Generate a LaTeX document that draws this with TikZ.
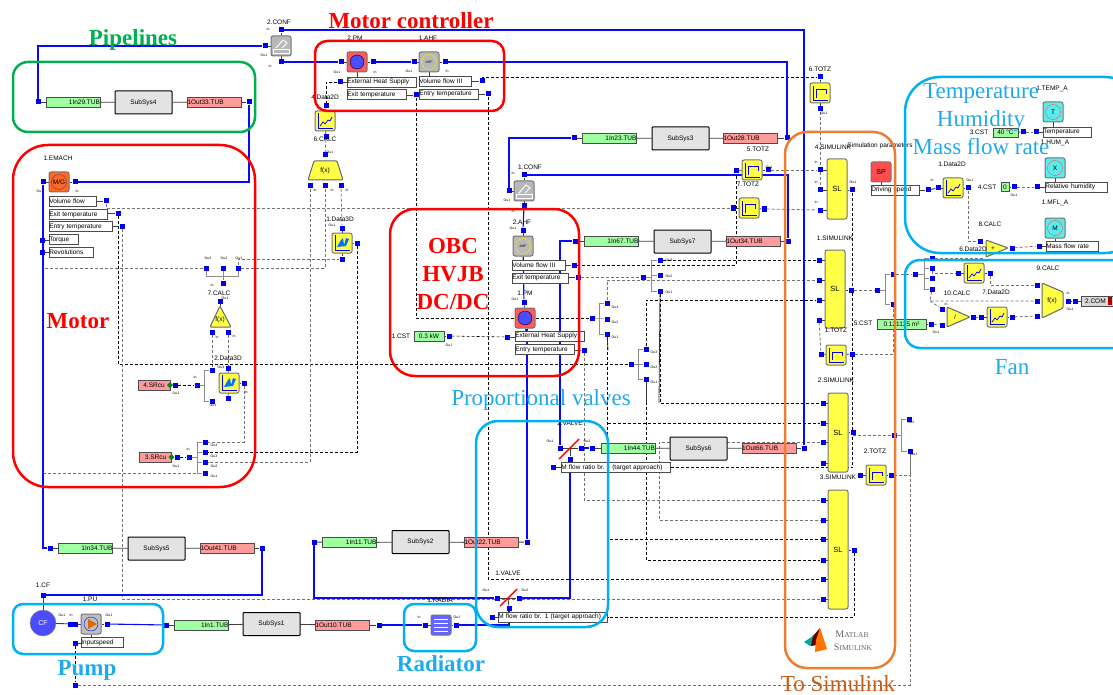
\documentclass[tikz,border=0pt]{standalone}
\usepackage{fontspec}
\setmainfont{Liberation Serif}
\newfontfamily\labelfont{Liberation Sans}
\usetikzlibrary{backgrounds}

\definecolor{portblue}{RGB}{0,0,240}
\definecolor{pipeblue}{RGB}{10,10,250}
\definecolor{tubegreen}{RGB}{160,255,160}
\definecolor{tubered}{RGB}{255,155,155}
\definecolor{blockyellow}{RGB}{255,255,70}
\definecolor{blockcyan}{RGB}{90,235,235}
\definecolor{zonecyan}{RGB}{0,176,240}
\definecolor{textcyan}{RGB}{30,170,235}
\definecolor{zoneorange}{RGB}{237,125,49}
\definecolor{textorange}{RGB}{197,90,17}
\definecolor{zonegreen}{RGB}{0,176,80}

\tikzset{
  tiny/.style={font=\labelfont\fontsize{6.5}{7}\selectfont, inner sep=0pt},
  tag/.style={font=\labelfont\fontsize{3.5}{4}\selectfont, inner sep=0pt},
  port/.style={fill=portblue, minimum size=5pt, inner sep=0pt},
  intube/.style={draw=black!70, fill=tubegreen, line width=.6pt, minimum height=10pt, inner sep=1.5pt, text width=54pt, align=right, tiny},
  outtube/.style={draw=black!70, fill=tubered, line width=.6pt, minimum height=10pt, inner sep=1.5pt, text width=54pt, align=left, tiny},
  subsys/.style={draw=black, fill=black!11, line width=1pt, rounded corners=.8pt, minimum width=57pt, minimum height=23pt, tiny},
  rowbox/.style={draw=black!70, fill=white, line width=.7pt, anchor=west, minimum height=10pt, inner sep=1.5pt, text width=#1, tiny},
  cstbox/.style={draw=black!70, fill=tubegreen, line width=.6pt, minimum height=9pt, inner sep=1.5pt, tiny},
  yblock/.style={draw=black!55, fill=blockyellow, line width=1pt, rounded corners=2pt, minimum size=20pt, inner sep=0pt, tiny},
  sgblock/.style={draw=black!55, fill=black!28, line width=1pt, rounded corners=2pt, minimum size=20pt, inner sep=0pt},
  slblock/.style={draw=black!55, fill=blockyellow, line width=1pt, rounded corners=2pt, minimum width=20pt, tiny, font=\labelfont\fontsize{7.5}{8}\selectfont},
  cyblock/.style={draw=black!55, fill=blockcyan, line width=1pt, rounded corners=2pt, minimum size=20pt, inner sep=0pt},
  pipe/.style={draw=pipeblue, line width=1.1pt},
  sig/.style={draw=black, line width=.55pt, dash pattern=on 3pt off 2pt},
  siggray/.style={draw=black!55, line width=.8pt, dash pattern=on 3pt off 2pt},
  brk/.style={draw=black!45, line width=.55pt},
  stub/.style={draw=black!75, line width=.9pt},
  zone/.style={line width=2.5pt, rounded corners=#1},
  bigbold/.style={font=\fontsize{23}{28}\selectfont\bfseries, inner sep=0pt, align=center},
  bigplain/.style={font=\fontsize{23}{28}\selectfont, inner sep=0pt, align=center},
  totzicon/.pic={
    \draw[blue, line width=.7pt] (-7,-7) -- (-7,7) -- (8,7);
    \draw[blue, line width=1pt] (-4,5) -- (-4,-3) -- (6,-3) -- (6,1);
  },
  curveicon/.pic={
    \draw[blue, line width=.7pt] (-7,-8) -- (-7,7) -- (8,7);
    \draw[blue, line width=.7pt] (-5,5) -- (-2,1) -- (0,3) -- (3,-1) -- (5,0) -- (7,-4);
  },
  surficon/.pic={
    \draw[blue, line width=.7pt] (-7,-8) -- (-7,7) -- (8,7);
    \fill[blue!55!cyan] (-5,4) -- (-1,-3) -- (1,-5) -- (2,2) -- (4,-5) -- (7,-4) -- (4,3) -- cycle;
  },
  confswitch/.pic={
    \draw[white, line width=.9pt] (-8,3) -- (8,3) -- (8,7) -- (-8,7) -- cycle;
    \draw[white, line width=.9pt] (-5,2) -- (2,-6) -- (6,-3) -- (1,2);
  },
}

\begin{document}
\begin{tikzpicture}[x=1pt, y=-1pt]
  \useasboundingbox (0,0) rectangle (1113,695);
  \clip (0,0) rectangle (1113,695);

  % Ports
  \foreach \n/\x/\y in {in29p/38/102, out33p/249/102, cf2t/281/30, cf2l/265/46, cf2b/281/62,
      pm2l/341/62, pm2r/373/62, heat2p/340/82, exit2p/416/95, ahf1l/414/62, ahf1r/445/62,
      vol1p/482/81, ent1p/488/94, d4t/326/106, d4b/326/137, calc6t/325/155, calc6a/310/186,
      calc6b/325/186, calc6c/341/186, d1t/342/228, d1r/357/243, d1b/342/259,
      emL/43/182, emR/75/182, volP/106/201, exitP/118/213, entP/122/226, torP/42/240, revP/42/252,
      s7a/206/268, s7b/223/268, s7c/238/268, s7in/223/283, calc7t/220/301, calc7a/212/332, calc7b/228/332,
      d2t/228/368, d2r/244/383, d2b/228/398, s4a/212/370, s4b/212/401, s4in/197/385, sr4p/175/385,
      sr3p/177/457, s3in/189/457, s3a/205/442, s3b/205/452, s3c/205/462, s3d/205/473,
      in34p/50/548, out41p/262/548, cfT/43/595, puR/107/624, inputP/75/643, linkP/75/685,
      in1p/166/625, out10p/379/625, radL/425/625, radR/456/625, in11p/314/542, out22p/527/542,
      v1l/497/598, v1r/519/598, v1b/509/608, v1row/492/617, v2l/560/448, v2r/581/448, v2b/570/459,
      v2row/553/467, in44p/592/448, out66p/804/448, cf1l/509/191, cf1t/524/175, cf1b/524/206,
      ahf2t/523/230, vol2p/574/265, exit3p/578/277, pm1t/524/302, heat1p/507/337, ent2p/584/350,
      cst1p/449/336, in67p/575/241, out34p/788/241, in23p/574/138, out28p/787/138,
      s5in/643/277, s5a/660/260, s5b/660/275, s5c/660/291, s6in/592/318, s6a/607/303, s6b/607/319, s6c/607/334,
      s8in/631/364, s8a/646/349, s8b/646/364, s8c/646/379, tz5l/736/171, tz5r/768/170, tz7l/733/208, tz7r/764/209,
      tz6t/820/77, tz6b/820/109, sl4a/820/170, sl4b/820/190, sl4c/820/210, sl4r/852/190,
      sl1a/819/260, sl1b/819/280, sl1c/819/300, sl1d/819/320, sl1r/851/290, tz1l/821/354, tz1r/852/354,
      sl2a/823/403, sl2b/823/423, sl2c/823/442, sl2d/823/463, sl2r/853/432, tz2l/860/475, tz2r/891/475,
      s9in/894/435, s9a/909/419, s9b/910/451, sl3a/823/500, sl3b/823/520, sl3c/823/539, sl3d/823/560,
      sl3e/823/579, sl3f/823/599, sl3r/854/550, s2in/877/290, s2a/893/274, s2b/893/304,
      cst3p/1023/132, tempP/1036/132, cst4p/1014/187, humP/1037/187, massP/1039/246, drvP/928/190,
      d6l/938/188, d6r/968/188, calc8l/980/241, calc8r/1012/248, fanin/915/274, f1/932/258, f2/932/268,
      f3/932/278, f4/932/289, d7l/958/273, d7r/990/273, calc10a/942/309, calc10b/942/325, calc10r/973/317,
      d8l/981/317, d8r/1012/317, cst5p/931/324, calc9a/1037/285, calc9b/1037/301, calc9c/1037/316,
      calc9r/1068/301, comL/1075/301}
    \node[port] (\n) at (\x,\y) {};
  \node[port, minimum width=10pt] (cfR) at (73,624) {};

  % Subsystem chains
  \node[intube] (in29) at (73,102) {1In29.TUB};
  \node[subsys] (sub4) at (143.5,102.5) {SubSys4};
  \node[outtube] (out33) at (214.5,102) {1Out33.TUB};
  \node[intube] (in34) at (85.5,548) {1In34.TUB};
  \node[subsys] (sub5) at (156.5,548.5) {SubSys5};
  \node[outtube] (out41) at (227.5,548) {1Out41.TUB};
  \node[intube] (in1) at (201.5,625) {1In1.TUB};
  \node[subsys] (sub1) at (271.5,624) {SubSys1};
  \node[outtube] (out10) at (342.5,625) {1Out10.TUB};
  \node[intube] (in11) at (349.5,542.5) {1In11.TUB};
  \node[subsys] (sub2) at (420.5,542) {SubSys2};
  \node[outtube] (out22) at (491.5,542.5) {1Out22.TUB};
  \node[intube] (in23) at (609.5,138) {1In23.TUB};
  \node[subsys] (sub3) at (680.5,138.5) {SubSys3};
  \node[outtube] (out28) at (750.5,138) {1Out28.TUB};
  \node[intube] (in67) at (611.5,241) {1In67.TUB};
  \node[subsys] (sub7) at (682.5,241.5) {SubSys7};
  \node[outtube] (out34) at (753.5,241) {1Out34.TUB};
  \node[intube] (in44) at (628,448) {1In44.TUB};
  \node[subsys] (sub6) at (698.5,448.5) {SubSys6};
  \node[outtube] (out66) at (769,448) {1Out66.TUB};

  % Motor
  \node[tiny] (emachtxt) at (58,158) {1.EMACH};
  \node[sgblock, fill=orange!60!red!85] (emach) at (59,182) {};
  \node[draw=black!70, circle, minimum size=15pt, inner sep=0pt, tiny] (emachc) at (59,182) {M/G};
  \node[rowbox=47pt] (rvol) at (49,201) {Volume flow};
  \node[rowbox=58pt] (rexit) at (49,214.5) {Exit temperature};
  \node[rowbox=63pt] (rentry) at (49,226.5) {Entry temperature};
  \node[rowbox=29pt] (rtor) at (49,239.5) {Torque};
  \node[rowbox=44pt] (rrev) at (49,252) {Revolutions};
  \node[tiny] (calc7txt) at (219,293) {7.CALC};
  \draw[draw=black!60, fill=blockyellow, line width=1pt, rounded corners=1pt] (220,306) -- (231,327) -- (210,327) -- cycle;
  \node[tiny] (calc7) at (220,320) {f(x)};
  \node[tiny] (d2txt) at (228,358) {2.Data3D};
  \node[yblock] (d2) at (229,383) {};
  \pic at (229,383) {surficon};
  \node[draw=black!70, fill=tubered, minimum width=32pt, minimum height=10pt, inner sep=0pt, tiny] (sr4) at (154,385) {4.SRcu};
  \node[draw=black!70, fill=tubered, minimum width=32pt, minimum height=10pt, inner sep=0pt, tiny] (sr3) at (155.5,457) {3.SRcu};
  \fill[green!55!black] (170,382) -- (173,385) -- (170,388) -- (167,385) -- cycle;
  \fill[green!55!black] (171.5,454) -- (174.5,457) -- (171.5,460) -- (168.5,457) -- cycle;

  % Motor controller
  \node[tiny] (conf2txt) at (279,22) {2.CONF};
  \node[sgblock] (conf2) at (281,46) {};
  \pic at (281,46) {confswitch};
  \node[tiny] (pm2txt) at (355,38) {2.PM};
  \node[sgblock, fill=red!65] (pm2) at (357,62) {};
  \node[draw=black, fill=blue!70, circle, minimum size=14pt, inner sep=0pt] (pm2c) at (357,62) {};
  \node[rowbox=69pt] (rheat2) at (347,82) {External Heat Supply};
  \node[rowbox=59pt] (rexit2) at (347,94.5) {Exit temperature};
  \node[tiny] (ahf1txt) at (428,38) {1.AHF};
  \node[sgblock] (ahf1) at (429,62) {};
  \node[draw=yellow, circle, minimum size=15pt, inner sep=0pt, font=\labelfont\fontsize{3.5}{4}\selectfont] (ahf1c) at (429,62) {AHF};
  \node[rowbox=52pt] (rvol1) at (419,81.5) {Volume flow III};
  \node[rowbox=59pt] (rent1) at (419,94) {Entry temperature};
  \node[tiny] (d4txt) at (325,97) {4.Data2D};
  \node[yblock] (d4) at (325,121) {};
  \pic at (325,121) {curveicon};
  \node[tiny] (calc6txt) at (325,139) {6.CALC};
  \draw[draw=black!60, fill=blockyellow, line width=1pt, rounded corners=1pt] (314,161) -- (337,161) -- (343,180) -- (308,180) -- cycle;
  \node[tiny] (calc6) at (325,171) {f(x)};
  \node[tiny] (d1txt) at (340,219) {1.Data3D};
  \node[yblock] (d1) at (342,243) {};
  \pic at (342,243) {surficon};

  % OBC, HVJB and DC/DC
  \node[tiny] (conf1txt) at (530,167) {1.CONF};
  \node[sgblock] (conf1) at (524,191) {};
  \pic at (524,191) {confswitch};
  \node[tiny] (ahf2txt) at (522,222) {2.AHF};
  \node[sgblock] (ahf2) at (523,246) {};
  \node[draw=yellow, circle, minimum size=15pt, inner sep=0pt, font=\labelfont\fontsize{3.5}{4}\selectfont] (ahf2c) at (523,246) {AHF};
  \node[rowbox=53pt] (rvol2) at (512,265) {Volume flow III};
  \node[rowbox=56pt] (rexit3) at (512,278) {Exit temperature};
  \node[tiny] (pm1txt) at (525,293) {1.PM};
  \node[sgblock, fill=red!65] (pm1) at (525,318) {};
  \node[draw=black, fill=blue!70, circle, minimum size=14pt, inner sep=0pt] (pm1c) at (525,318) {};
  \node[rowbox=69pt] (rheat1) at (515,336) {External Heat Supply};
  \node[rowbox=59pt] (rent2) at (515,349.5) {Entry temperature};
  \node[tiny] (cst1txt) at (401,336) {1.CST};
  \node[cstbox, minimum width=30pt, minimum height=10pt] (cst1) at (429,336) {0.3 kW};

  % Valves
  \node[tiny] (v2txt) at (570,423) {2.VALVE};
  \node[rowbox=109pt] (rv2) at (561,467.5) {M flow ratio br. - (target approach)};
  \node[tiny] (v1txt) at (508,573) {1.VALVE};
  \node[rowbox=109pt] (rv1) at (498,617) {M flow ratio br. 1 (target approach)};
  \coordinate (v2c) at (570,448);
  \coordinate (v1c) at (508,598);

  % Pump and radiator
  \node[tiny] (cftxt) at (43,585) {1.CF};
  \node[draw=black!50, fill=blue!70, circle, minimum size=26pt, inner sep=0pt, text=white, font=\labelfont\fontsize{7}{8}\selectfont] (cf) at (43,623) {CF};
  \node[tiny] (putxt) at (90,599) {1.PU};
  \node[sgblock, fill=black!25] (pu) at (91,624) {};
  \node[draw=blue, circle, minimum size=14pt, inner sep=0pt] (puc) at (91,624) {};
  \fill[orange!85!black] (88,619) -- (97,624) -- (88,629) -- cycle;
  \node[rowbox=42pt] (rin) at (81,642.5) {Inputspeed};
  \node[tiny] (radtxt) at (440,600) {1.RADIA};
  \node[sgblock, fill=blue!60] (rad) at (441,625) {};
  \foreach \yy in {619,623,627,631} \draw[white, line width=.8pt] (434,\yy) -- (448,\yy);

  % Simulink inputs
  \node[tiny] (tz6txt) at (820,69) {6.TOTZ};
  \node[yblock] (tz6) at (820,93) {};
  \pic at (820,93) {totzicon};
  \node[tiny] (tz5txt) at (758,149) {5.TOTZ};
  \node[yblock] (tz5) at (752,170) {};
  \pic at (752,170) {totzicon};
  \node[tiny] (tz7txt) at (748,184) {7.TOTZ};
  \node[yblock] (tz7) at (749,208) {};
  \pic at (749,208) {totzicon};
  \node[tiny] (sl4txt) at (833,147) {4.SIMULINK};
  \node[tiny] (sptxt) at (880,146) {Simulation parameters};
  \node[slblock, minimum height=60pt] (sl4) at (837,189) {SL};
  \node[tiny] (sl1txt) at (835,238) {1.SIMULINK};
  \node[slblock, minimum height=78pt] (sl1) at (835,289) {SL};
  \node[tiny] (tz1txt) at (836,330) {1.TOTZ};
  \node[yblock] (tz1) at (836,355) {};
  \pic at (836,355) {totzicon};
  \node[tiny] (sl2txt) at (836,380) {2.SIMULINK};
  \node[slblock, minimum height=79pt] (sl2) at (838,432.5) {SL};
  \node[tiny] (tz2txt) at (875,451) {2.TOTZ};
  \node[yblock] (tz2) at (876,475) {};
  \pic at (876,475) {totzicon};
  \node[tiny] (sl3txt) at (838,477) {3.SIMULINK};
  \node[slblock, minimum height=119pt] (sl3) at (838,549.5) {SL};
  \node[sgblock, fill=red!70, font=\labelfont\fontsize{7}{8}\selectfont] (sp) at (881,172) {SP};
  \node[rowbox=48pt] (rdrv) at (871,190) {Driving speed};

  % Ambient conditions
  \node[tiny] (temptxt) at (1052,89) {1.TEMP\_A};
  \node[cyblock] (temp) at (1053,112) {};
  \node[draw=red!70, circle, minimum size=15pt, inner sep=0pt, tiny] (tempc) at (1053,112) {T};
  \node[rowbox=48pt] (rtemp) at (1043,132) {Temperature};
  \node[tiny] (cst3txt) at (979,132) {3.CST};
  \node[cstbox, minimum width=25pt] (cst3) at (1005.5,132.5) {40 °C};
  \node[tiny] (humtxt) at (1055,143) {1.HUM\_A};
  \node[cyblock] (hum) at (1055,168) {};
  \node[draw=red!70, circle, minimum size=15pt, inner sep=0pt, tiny] (humc) at (1055,168) {X};
  \node[rowbox=62pt] (rhum) at (1045,187) {Relative humidity};
  \node[tiny] (cst4txt) at (987,187) {4.CST};
  \node[cstbox, minimum width=8pt] (cst4) at (1005,187) {0};
  \node[tiny] (mfltxt) at (1055,203) {1.MFL\_A};
  \node[cyblock] (mfl) at (1055,228) {};
  \node[draw=red!70, circle, minimum size=15pt, inner sep=0pt, tiny] (mflc) at (1055,228) {M};
  \node[rowbox=52pt] (rmass) at (1046,246) {Mass flow rate};
  \node[tiny] (d6txt) at (952,164) {1.Data2D};
  \node[yblock] (d6) at (953,188) {};
  \pic at (953,188) {curveicon};
  \node[tiny] (calc8txt) at (990,224) {8.CALC};
  \draw[draw=black!60, fill=blockyellow, line width=1pt, rounded corners=1pt] (986,240) -- (1008,248) -- (986,257) -- cycle;
  \node[tiny] (calc8) at (993,249) {+};

  % Fan
  \node[tiny] (d7txt) at (973,249) {6.Data2D};
  \node[yblock] (d7) at (974,273) {};
  \pic at (974,273) {curveicon};
  \node[tiny] (calc10txt) at (957,293) {10.CALC};
  \draw[draw=black!60, fill=blockyellow, line width=1pt, rounded corners=1pt] (947,307) -- (970,317) -- (947,327) -- cycle;
  \node[tiny] (calc10) at (955,317) {/};
  \node[tiny] (d8txt) at (996,292) {7.Data2D};
  \node[yblock] (d8) at (997,317) {};
  \pic at (997,317) {curveicon};
  \node[tiny] (calc9txt) at (1048,268) {9.CALC};
  \draw[draw=black!60, fill=blockyellow, line width=1pt, rounded corners=1pt] (1042,283) -- (1063,292) -- (1063,308) -- (1042,318) -- cycle;
  \node[tiny] (calc9) at (1052,301) {f(x)};
  \node[draw=black!70, fill=black!15, minimum width=32pt, minimum height=10pt, inner sep=1pt, tiny] (com2) at (1097,301) {2.COM\,\,\,};
  \fill[red!70!black] (1108,297) rectangle (1112,305);
  \node[tiny] (cst5txt) at (863,323) {5.CST};
  \node[cstbox, minimum width=49pt, minimum height=10pt] (cst5) at (901.5,324) {0.121135 m²};

  % Port tags
  \foreach \x/\y/\t [count=\i] in {268/29/In, 264/55/Ou1, 270/66/In, 40/191/Ou1, 77/191/In, 337/72/Ou1, 375/72/In,
      409/71/Ou1, 447/71/In, 330/152/Ou1, 315/190/In, 332/190/In, 347/190/In, 332/225/Ou1, 513/173/In, 507/200/Ou1,
      513/211/In, 513/228/Ou1, 824/113/Ou1, 769/167/Ou1, 853/182/Ou1, 816/162/In, 816/182/In, 816/202/In, 932/180/In,
      970/180/Ou1, 1014/195/Ou1, 208/258/Ou3, 224/258/Ou2, 239/258/Ou1, 212/285/In, 225/298/Ou1,
      217/337/In, 234/336/In, 176/393/Ou1, 195/377/In, 213/405/Ou1, 221/367/Ou3, 246/392/In, 176/466/Ou1, 188/449/In,
      214/445/Ou4, 214/456/Ou3, 214/466/Ou2, 214/476/Ou1, 62/615/Ou1, 71/615/In, 109/615/Ou1, 419/617/In, 457/617/Ou1,
      486/590/Ou1, 525/590/Ou2, 550/441/Ou1, 587/441/Ou2, 449/345/Ou1, 515/299/Ou1, 669/260/Ou3, 669/276/Ou2, 669/292/Ou1,
      615/307/Ou3, 615/322/Ou2, 615/337/Ou1, 654/352/Ou3, 654/367/Ou2, 654/382/Ou1, 911/422/Ou2, 914/454/Ou1, 1068/293/In,
      1070/309/Ou1, 946/304/In, 936/332/Ou1}
    \node[tag] (tag\i) at (\x,\y) {\t};

  \begin{scope}[on background layer]
    % Black signal wires
    \draw[sig] (vol1p) |- (tz6t);
    \draw[sig] (ent1p) |- (sl3e);
    \draw[sig] (exit2p) |- (s6in);
    \draw[sig] (exitP) |- (s8in);
    \draw[sig] (vol2p) -| (tz5l);
    \draw[sig] (s5a) -- (sl1a);
    \draw[sig] (s5c) |- (sl2a);
    \draw[sig] (s6c) |- (sl3c);
    \draw[sig] (608,423) -- (sl2b);
    \draw[sig] (s8a) |- (sl1c);
    \draw[sig] (s8c) |- (sl3d);
    \draw[sig] (rv2.east) -- (852,467.5);
    \draw[sig] (tz1r) -- (852,467.5);
    \draw[sig] (sl4r) -- (tz1r);
    \draw[sig] (sl3r) |- (rv1.east);
    \draw[sig] (heat2p) -| (d4t);
    \draw[sig] (cst1p) -- (heat1p);
    \draw[sig] (d1r) |- (s3b);
    \draw[sig] (inputP) -- (linkP);
    \draw[sig] (sr4p) -- (s4in);
    \draw[sig] (sr3p) -- (s3in);
    % Gray signal wires
    \draw[siggray] (volP) |- (tz7l);
    \draw[siggray] (entP) |- (sl3f);
    \draw[siggray] (exit3p) -- (s5in);
    \draw[siggray] (s6a) |- (sl1b);
    \draw[siggray] (ent2p) |- (sl3a);
    \draw[siggray] (sl2c) -- (659,442) -- (659,520) -- (sl3b);
    \draw[siggray] (calc6c) -- (d1t);
    \draw[siggray] (calc6a) |- (s3c);
    \draw[siggray] (calc6b) |- (s7c);
    \draw[siggray] (d4b) -- (calc6t);
    \draw[siggray] (s7a) -| (43,473) -- (s3d);
    \draw[siggray] (s7c) |- (d1b);
    \draw[siggray] (calc7a) -- (s4a);
    \draw[siggray] (calc7b) -- (d2t);
    \draw[siggray] (d2r) |- (s3a);
    \draw[siggray] (tz5r) -- (sl4a);
    \draw[siggray] (tz7r) -- (sl4c);
    \draw[siggray] (tz6b) -- (sl4b);
    \draw[siggray] (sl1d) -- (tz1l);
    \draw[siggray] (sl1r) -- (s2in);
    \draw[siggray] (tz1r) -| (s2b);
    \draw[siggray] (sl2r) |- (s9in);
    \draw[siggray] (tz2r) -- (910,475);
    \draw[siggray] (s9b) |- (linkP);
    \draw[siggray] (s2a) -- (fanin);
    \draw[siggray] (cst3p) -- (tempP);
    \draw[siggray] (cst4p) -- (humP);
    \draw[siggray] (calc8r) -- (massP);
    \draw[siggray] (d6r) |- (calc8l);
    \draw[siggray] (f1) -- (984,258);
    \draw[siggray] (f2) |- (d7l);
    \draw[siggray] (f4) -- (930,301) -- (calc9b);
    \draw[siggray] (930,301) -- (calc10a);
    \draw[siggray] (cst5p) -- (calc10b);
    \draw[siggray] (d7r) |- (calc9a);
    \draw[siggray] (d8r) -- (calc9c);
    \draw[siggray] (calc10r) -- (d8l);
    % Splitter brackets
    \draw[brk] (s5a) -| (651,291) -- (s5c);
    \draw[brk] (s5in) -| (651,275) -- (s5b);
    \draw[brk] (s6a) -| (599,334) -- (s6c);
    \draw[brk] (s6in) -- (s6b);
    \draw[brk] (s8a) -| (638,379) -- (s8c);
    \draw[brk] (s8in) -- (s8b);
    \draw[brk] (s7a) |- (238,276) -- (s7c);
    \draw[brk] (s7b) -- (s7in);
    \draw[brk] (s4a) -| (204,401) -- (s4b);
    \draw[brk] (s4in) -- (204,385);
    \draw[brk] (s3a) -| (197,473) -- (s3d);
    \draw[brk] (s3in) -- (197,457);
    \draw[brk] (197,452) -- (s3b);
    \draw[brk] (197,462) -- (s3c);
    \draw[brk] (s9a) -| (901,451) -- (s9b);
    \draw[brk] (s9in) -- (901,435);
    \draw[brk] (s2a) -| (885,304) -- (s2b);
    \draw[brk] (s2in) -- (885,290);
    \draw[brk] (f1) -| (924,289) -- (f4);
    \draw[brk] (fanin) -- (924,274);
    \draw[brk] (924,268) -- (f2);
    \draw[brk] (924,278) -- (f3);
    \draw[black!55, line width=.9pt] (s9b) -- (910,475);
    \draw[black!80, line width=.8pt] (s6c) -- (608,350);
    \draw[black!80, line width=.8pt] (s8c) -- (646,403);
    \draw[black!80, line width=.8pt] (s5c) -- (659,403);
    % Short stubs from blocks to their ports
    \foreach \a/\b in {in29p/in29, in29/sub4, sub4/out33, out33/out33p, in34p/in34, in34/sub5, sub5/out41, out41/out41p,
        in1p/in1, in1/sub1, sub1/out10, out10/out10p, in11p/in11, in11/sub2, sub2/out22, out22/out22p,
        in23p/in23, in23/sub3, sub3/out28, out28/out28p, in67p/in67, in67/sub7, sub7/out34, out34/out34p,
        in44p/in44, in44/sub6, sub6/out66, out66/out66p, conf2/cf2t, conf2/cf2l, conf2/cf2b, pm2/pm2l, pm2/pm2r,
        ahf1/ahf1l, ahf1/ahf1r, emach/emL, emach/emR, d4/d4t, d4/d4b, d1/d1t, d1/d1r, d1/d1b,
        d2/d2t, d2/d2r, d2/d2b, sr4/sr4p, sr3/sr3p, conf1/cf1l, conf1/cf1t, conf1/cf1b, ahf2/ahf2t,
        pm1/pm1t, tz5/tz5l, tz5/tz5r, tz7/tz7l, tz7/tz7r, tz6/tz6t, tz6/tz6b, tz1/tz1l, tz1/tz1r, tz2/tz2l, tz2/tz2r,
        cst3/cst3p, cst4/cst4p, drvP/d6l, d6/d6l, d6/d6r, d7/d7l, d7/d7r, d8/d8l, d8/d8r, cst5/cst5p, cst1/cst1p,
        calc9r/comL, comL/com2, pu/cfR, cf/cfR, cf/cfT, rad/radL, rad/radR, pu/puR}
      \draw[stub] (\a) -- (\b);
    % Rows hang below their block
    \foreach \a/\b in {temp/rtemp, hum/rhum, mfl/rmass, sp/rdrv, v2b/rv2, v1b/rv1, pu/rin, pm1/rheat1, ahf2/rvol2, pm2/rheat2, ahf1/rvol1}
      \draw[stub] (\a.south) -- (\a.south |- \b.north);
    % Rows and tall blocks meet their ports straight across
    \foreach \p/\b/\s in {volP/rvol/east, exitP/rexit/east, entP/rentry/east, torP/rtor/west, revP/rrev/west,
        heat2p/rheat2/west, exit2p/rexit2/east, vol1p/rvol1/east, ent1p/rent1/east, vol2p/rvol2/east, exit3p/rexit3/east,
        heat1p/rheat1/west, ent2p/rent2/east, tempP/rtemp/west, humP/rhum/west, massP/rmass/west, drvP/rdrv/east,
        inputP/rin/west, v2row/rv2/west, v1row/rv1/west,
        sl4a/sl4/west, sl4b/sl4/west, sl4c/sl4/west, sl4r/sl4/east,
        sl1a/sl1/west, sl1b/sl1/west, sl1c/sl1/west, sl1d/sl1/west, sl1r/sl1/east,
        sl2a/sl2/west, sl2b/sl2/west, sl2c/sl2/west, sl2d/sl2/west, sl2r/sl2/east,
        sl3a/sl3/west, sl3b/sl3/west, sl3c/sl3/west, sl3d/sl3/west, sl3e/sl3/west, sl3f/sl3/west, sl3r/sl3/east}
      \draw[stub] (\p) -- (\p -| \b.\s);
    \draw[stub] (calc7t) -- (220,306);
    \draw[stub] (v2l) -- (v2r);
    \draw[stub] (v2c) -- (v2b);
    \draw[stub] (v1l) -- (v1r);
    \draw[stub] (v1c) -- (v1b);
    % Cooling loop pipes
    \draw[pipe] (in29p) |- (cf2l);
    \draw[pipe] (out33p) |- (emR);
    \draw[pipe] (emL) |- (in34p);
    \draw[pipe] (out41p) |- (cfT);
    \draw[pipe] (cf2b) -- (pm2l);
    \draw[pipe] (pm2r) -- (ahf1l);
    \draw[pipe] (ahf1r) -| (out28p);
    \draw[pipe] (cf2t) -| (out66p);
    \draw[pipe] (cf1l) |- (in23p);
    \draw[pipe] (cf1t) -| (out34p);
    \draw[pipe] (cf1b) -- (ahf2t);
    \draw[pipe] (ahf2) -- (pm1t);
    \draw[pipe] (pm1.south -| out22p) -- (out22p);
    \draw[pipe] (v2l) |- (in67p);
    \draw[pipe] (v2r) -- (in44p);
    \draw[pipe] (v1r) -| (v2b);
    \draw[pipe] (in11p) |- (v1l);
    \draw[pipe] (radR) -| (v1b);
    \draw[pipe] (out10p) -- (radL);
    \draw[pipe] (puR) -- (in1p);
  \end{scope}

  % Valve flaps
  \draw[red, line width=1.4pt] (559,459) -- (579,439);
  \draw[red, line width=1.4pt] (500,606) -- (517,589);

  % Logo
  \fill[teal!70!cyan] (804,642) -- (813,636) -- (816,640) -- (810,646) -- cycle;
  \fill[black!60!red] (813,636) -- (820,628) -- (817,645) -- (811,646) -- cycle;
  \fill[orange!90!red] (820,628) -- (827,649) -- (815,652) -- (816,640) -- cycle;
  \node[inner sep=0pt, text=black!60] (matlab) at (852,634) {\fontsize{10}{10}\selectfont M\fontsize{7.5}{10}\selectfont ATLAB};
  \node[inner sep=0pt, text=black!60] (simulink) at (853,647) {\fontsize{10}{10}\selectfont S\fontsize{7.5}{10}\selectfont IMULINK};

  % Zones
  \draw[zone=15pt, draw=zonegreen] (13,62) rectangle (255,132);
  \draw[zone=35pt, draw=red] (13,145) rectangle (255,487);
  \draw[zone=12pt, draw=red] (315,41) rectangle (504,111);
  \draw[zone=25pt, draw=red] (390,209) rectangle (579,376);
  \draw[zone=22pt, draw=zonecyan] (476,421) rectangle (608,627);
  \draw[zone=10pt, draw=zonecyan] (13,604) rectangle (163,654);
  \draw[zone=10pt, draw=zonecyan] (404,604) rectangle (476,651);
  \draw[zone=35pt, draw=zonecyan] (905,77) rectangle (1140,253);
  \draw[zone=15pt, draw=zonecyan] (905,260) rectangle (1140,348);
  \draw[zone=22pt, draw=zoneorange] (785,132) rectangle (895,668);

  % Titles
  \node[bigbold, text=zonegreen] (pipelines) at (133,40) {Pipelines};
  \node[bigbold, text=red] (mctitle) at (411,21) {Motor controller};
  \node[bigbold, text=red] (motortitle) at (78,321) {Motor};
  \node[bigbold, text=red] (obctitle) at (453,274) {OBC\\HVJB\\DC/DC};
  \node[bigplain, text=textcyan] (valvetitle) at (541,400) {Proportional valves};
  \node[bigbold, text=textcyan] (pumptitle) at (87,670) {Pump};
  \node[bigbold, text=textcyan] (radtitle) at (441,664) {Radiator};
  \node[bigplain, text=textcyan] (temptitle) at (981,119) {Temperature\\Humidity\\Mass flow rate};
  \node[bigplain, text=textcyan] (fantitle) at (1012,367) {Fan};
  \node[bigplain, text=textorange] (slinktitle) at (838,684) {To Simulink};
\end{tikzpicture}
\end{document}
